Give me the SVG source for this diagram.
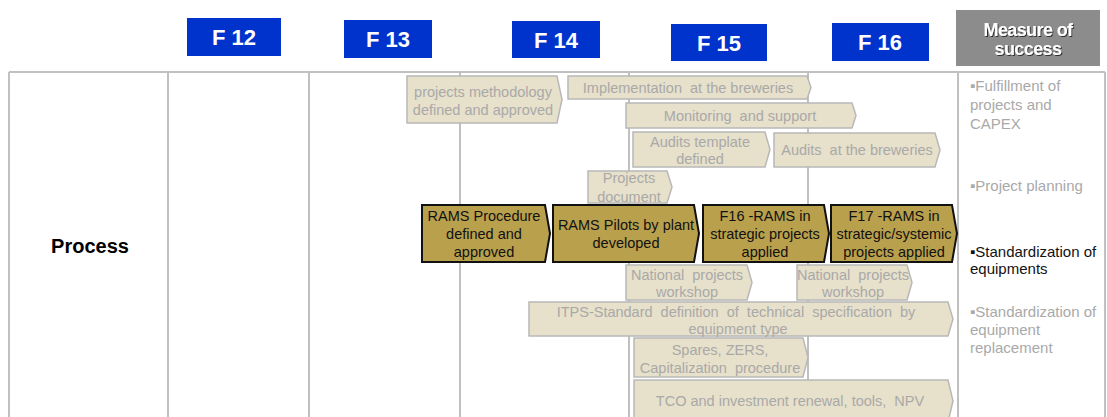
<svg xmlns="http://www.w3.org/2000/svg" width="1107" height="417" viewBox="0 0 1107 417">
  <defs>
    <style>
      .hdr { fill: #0033cc; }
      .hdrtxt { font-family: "Liberation Sans", Arial, sans-serif; font-size: 22px; font-weight: bold; fill: #ffffff; text-anchor: middle; }
      .mhdr { fill: #8c8c8c; }
      .mtxt { font-family: "Liberation Sans", Arial, sans-serif; font-size: 18px; font-weight: bold; fill: #ffffff; text-anchor: middle; letter-spacing: -0.6px; }
      .grid { stroke: #c0c0c0; stroke-width: 2; fill: none; }
      .lite { fill: #e7e0ca; stroke: #b8b8b8; stroke-width: 1.5; }
      .litetxt { font-family: "Liberation Sans", Arial, sans-serif; font-size: 14.5px; fill: #a9a9a9; text-anchor: middle; }
      .dark { fill: #b9a04c; stroke: #111111; stroke-width: 2; }
      .darktxt { font-family: "Liberation Sans", Arial, sans-serif; font-size: 14.5px; fill: #111111; text-anchor: middle; }
      .label { font-family: "Liberation Sans", Arial, sans-serif; font-size: 20px; font-weight: bold; fill: #000000; text-anchor: middle; }
      .meas { font-family: "Liberation Sans", Arial, sans-serif; font-size: 15px; fill: #a9a9a9; }
      .meas.on { fill: #111111; }
    </style>
    <filter id="shadow" x="-10%" y="-20%" width="120%" height="140%">
      <feDropShadow dx="1" dy="1" stdDeviation="0.4" flood-color="#222222" flood-opacity="0.9"/>
    </filter>
  </defs>

  <!-- column headers -->
  <g id="hdr-f12"><rect class="hdr" x="187" y="18" width="94" height="38"/><text class="hdrtxt" x="234" y="45">F 12</text></g>
  <g id="hdr-f13"><rect class="hdr" x="344" y="20" width="88" height="38"/><text class="hdrtxt" x="388" y="47">F 13</text></g>
  <g id="hdr-f14"><rect class="hdr" x="512" y="21" width="88" height="37"/><text class="hdrtxt" x="556" y="48">F 14</text></g>
  <g id="hdr-f15"><rect class="hdr" x="671" y="24" width="96" height="37"/><text class="hdrtxt" x="719" y="51">F 15</text></g>
  <g id="hdr-f16"><rect class="hdr" x="832" y="23" width="97" height="38"/><text class="hdrtxt" x="880" y="50">F 16</text></g>
  <g id="hdr-measure">
    <rect class="mhdr" x="956" y="10" width="144" height="56"/>
    <text class="mtxt" x="1028" y="36" filter="url(#shadow)">Measure of</text>
    <text class="mtxt" x="1028" y="55" filter="url(#shadow)">success</text>
  </g>

  <!-- table grid -->
  <g id="grid" class="grid">
    <path d="M9 72 H1105"/>
    <path d="M9 72 V417 M168 72 V417 M309 72 V417 M460 72 V417 M629 72 V417 M808 72 V417 M958 72 V417 M1105 72 V417"/>
  </g>

  <g id="row-label"><text class="label" x="90" y="253">Process</text></g>

  <!-- background activities -->
  <g id="methodology">
    <path class="lite" d="M407 76 H557 L562 99.5 L557 123 H407 Z"/>
    <text class="litetxt" x="483" y="97">projects methodology</text>
    <text class="litetxt" x="483" y="115">defined and approved</text>
  </g>
  <g id="implementation">
    <path class="lite" d="M568 76 H807 L811 87.5 L807 99 H568 Z"/>
    <text class="litetxt" x="688" y="93" xml:space="preserve">Implementation  at the breweries</text>
  </g>
  <g id="monitoring">
    <path class="lite" d="M626 103 H852 L856 115.5 L852 128 H626 Z"/>
    <text class="litetxt" x="740" y="121" xml:space="preserve">Monitoring  and support</text>
  </g>
  <g id="audits-template">
    <path class="lite" d="M633 132 H765 L770 149.5 L765 167 H633 Z"/>
    <text class="litetxt" x="700" y="147">Audits template</text>
    <text class="litetxt" x="700" y="164">defined</text>
  </g>
  <g id="audits-breweries">
    <path class="lite" d="M774 133 H935 L940 150 L935 167 H774 Z"/>
    <text class="litetxt" x="857" y="155" xml:space="preserve">Audits  at the breweries</text>
  </g>
  <g id="projects-document">
    <path class="lite" d="M588 171 H667 L672 187 L667 203 H588 Z"/>
    <text class="litetxt" x="629" y="183">Projects</text>
    <text class="litetxt" x="629" y="202">document</text>
  </g>
  <g id="workshop-1">
    <path class="lite" d="M626 265 H747 L752 282.5 L747 300 H626 Z"/>
    <text class="litetxt" x="687" y="280" xml:space="preserve">National  projects</text>
    <text class="litetxt" x="687" y="297">workshop</text>
  </g>
  <g id="workshop-2">
    <path class="lite" d="M797 265 H907 L912 282.5 L907 300 H797 Z"/>
    <text class="litetxt" x="853" y="280" xml:space="preserve">National  projects</text>
    <text class="litetxt" x="853" y="297">workshop</text>
  </g>
  <g id="itps">
    <path class="lite" d="M529 302 H948 L953 319 L948 336 H529 Z"/>
    <text class="litetxt" x="736" y="317" xml:space="preserve">ITPS-Standard  definition  of  technical  specification  by</text>
    <text class="litetxt" x="738" y="334">equipment type</text>
  </g>
  <g id="spares">
    <path class="lite" d="M634 338 H803 L808 357.5 L803 377 H634 Z"/>
    <text class="litetxt" x="720" y="355">Spares, ZERS,</text>
    <text class="litetxt" x="720" y="373" xml:space="preserve">Capitalization  procedure</text>
  </g>
  <g id="tco">
    <path class="lite" d="M634 380 H948 L953 401 L948 422 H634 Z"/>
    <text class="litetxt" x="790" y="406" xml:space="preserve">TCO and investment renewal, tools,  NPV</text>
  </g>

  <!-- RAMS milestones -->
  <g id="rams-procedure">
    <path class="dark" d="M422 205 H545 L550 233.5 L545 262 H422 Z"/>
    <text class="darktxt" x="484" y="221">RAMS Procedure</text>
    <text class="darktxt" x="484" y="239">defined and</text>
    <text class="darktxt" x="484" y="257">approved</text>
  </g>
  <g id="rams-pilots">
    <path class="dark" d="M553 205 H694 L699 233.5 L694 262 H553 Z"/>
    <text class="darktxt" x="626" y="230">RAMS Pilots by plant</text>
    <text class="darktxt" x="626" y="248">developed</text>
  </g>
  <g id="rams-f16">
    <path class="dark" d="M703 205 H824 L829 233.5 L824 262 H703 Z"/>
    <text class="darktxt" x="765" y="221">F16 -RAMS in</text>
    <text class="darktxt" x="765" y="239">strategic projects</text>
    <text class="darktxt" x="765" y="257">applied</text>
  </g>
  <g id="rams-f17">
    <path class="dark" d="M831 205 H952 L957 233.5 L952 262 H831 Z"/>
    <text class="darktxt" x="894" y="221">F17 -RAMS in</text>
    <text class="darktxt" x="894" y="239">strategic/systemic</text>
    <text class="darktxt" x="894" y="257">projects applied</text>
  </g>

  <!-- measures of success -->
  <g id="measures">
    <text class="meas" x="970" y="91">▪Fulfillment of</text>
    <text class="meas" x="970" y="110">projects and</text>
    <text class="meas" x="970" y="129">CAPEX</text>
    <text class="meas" x="970" y="191">▪Project planning</text>
    <text class="meas on" x="970" y="257">▪Standardization of</text>
    <text class="meas on" x="970" y="274">equipments</text>
    <text class="meas" x="970" y="317">▪Standardization of</text>
    <text class="meas" x="970" y="335">equipment</text>
    <text class="meas" x="970" y="353">replacement</text>
  </g>
</svg>
